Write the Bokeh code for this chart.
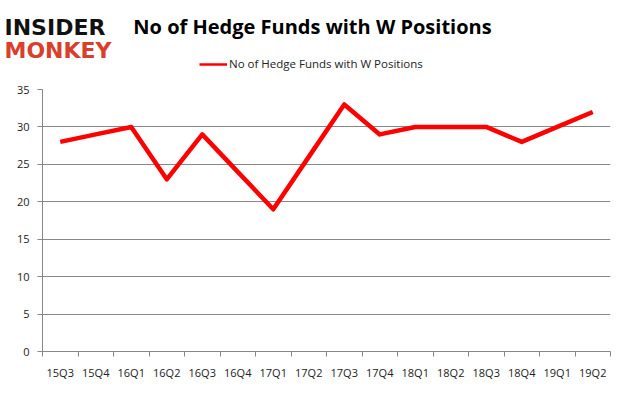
from bokeh.plotting import figure
from bokeh.models import (ColumnDataSource, FixedTicker, LinearAxis, Range1d, Label,
                          Legend, LegendItem)
from bokeh.embed import file_html
from bokeh.resources import INLINE

quarters = ["15Q3", "15Q4", "16Q1", "16Q2", "16Q3", "16Q4", "17Q1", "17Q2",
            "17Q3", "17Q4", "18Q1", "18Q2", "18Q3", "18Q4", "19Q1", "19Q2"]
funds = [28, 29, 30, 23, 29, 24, 19, 26, 33, 29, 30, 30, 30, 28, 30, 32]
y_ticks = [0, 5, 10, 15, 20, 25, 30, 35]
series_name = "No of Hedge Funds with W Positions"
chart_title = "No of Hedge Funds with W Positions"

xs = [i + 0.5 for i in range(len(quarters))]
src = ColumnDataSource(dict(x=xs, y=funds))

FONT = "Open Sans"
GRID = "#878787"
RED = "#ff0000"
W = 618
TOP_H = 80

# ---------- header (title, logo, legend) ----------
head = figure(width=W, height=TOP_H, output_backend="svg", toolbar_location=None,
              x_range=Range1d(0, W), y_range=Range1d(0, TOP_H),
              min_border=0, x_axis_type=None, y_axis_type=None)
head.outline_line_color = None
head.grid.visible = False
head.background_fill_color = "white"
head.border_fill_color = "white"

head.add_layout(Label(x=312, y=54, text=chart_title, text_align="center",
                      text_baseline="middle", text_font=FONT, text_font_style="bold",
                      text_font_size="20px", text_color="black"))
head.add_layout(Label(x=4, y=53, text="INSIDER", text_baseline="alphabetic",
                      text_font="DejaVu Sans", text_font_style="bold",
                      text_font_size="22px", text_color="#111111"))
head.add_layout(Label(x=4, y=30, text="MONKEY", text_baseline="alphabetic",
                      text_font="DejaVu Sans", text_font_style="bold",
                      text_font_size="22px", text_color="#d9402b"))

# hidden renderer (outside the visible range) that only supplies the legend swatch
sample = head.line(x=[0, 1], y=[-50, -50], line_color=RED, line_width=2.5)
legend = Legend(items=[LegendItem(label=series_name, renderers=[sample])],
                location=(199, 9), orientation="horizontal",
                label_text_font=FONT, label_text_font_size="11.5px",
                label_text_color="#222222", glyph_width=28, glyph_height=14,
                border_line_color=None, background_fill_alpha=0,
                padding=2, margin=0, label_standoff=2)
head.add_layout(legend, "center")

# ---------- main chart ----------
p = figure(width=W, height=309, output_backend="svg", toolbar_location=None,
           x_range=Range1d(0, len(quarters)), y_range=Range1d(0, 35),
           min_border_left=42, min_border_right=8, min_border_top=9,
           min_border_bottom=38, x_axis_type=None)
p.outline_line_color = None
p.background_fill_color = "white"
p.border_fill_color = "white"

p.line("x", "y", source=src, line_color=RED, line_width=4.5, line_join="round")

ya = p.yaxis[0]
ya.ticker = FixedTicker(ticks=y_ticks)
ya.axis_line_color = GRID
ya.major_tick_line_color = GRID
ya.major_tick_out = 5
ya.major_tick_in = 0
ya.minor_tick_line_color = None
ya.major_label_text_font = FONT
ya.major_label_text_font_size = "11px"
ya.major_label_text_color = "#222222"
ya.major_label_standoff = 8

p.xgrid.visible = False
p.ygrid.ticker = FixedTicker(ticks=y_ticks[1:])
p.ygrid.grid_line_color = GRID
p.ygrid.grid_line_width = 1

xa = LinearAxis(ticker=FixedTicker(ticks=list(range(len(quarters) + 1))))
xa.axis_line_color = GRID
xa.major_tick_line_color = GRID
xa.major_tick_out = 5
xa.major_tick_in = 0
xa.minor_tick_line_color = None
xa.major_label_text_alpha = 0
xa.major_label_text_font_size = "1px"
xa.major_label_standoff = 0
p.add_layout(xa, "below")

xl = LinearAxis(ticker=FixedTicker(ticks=xs))
xl.major_label_overrides = {x: q for x, q in zip(xs, quarters)}
xl.axis_line_color = None
xl.major_tick_line_color = None
xl.minor_tick_line_color = None
xl.major_label_text_font = FONT
xl.major_label_text_font_size = "11px"
xl.major_label_text_color = "#222222"
xl.major_label_standoff = 2
p.add_layout(xl, "below")

open("out.html", "w").write(file_html([head, p], INLINE))
